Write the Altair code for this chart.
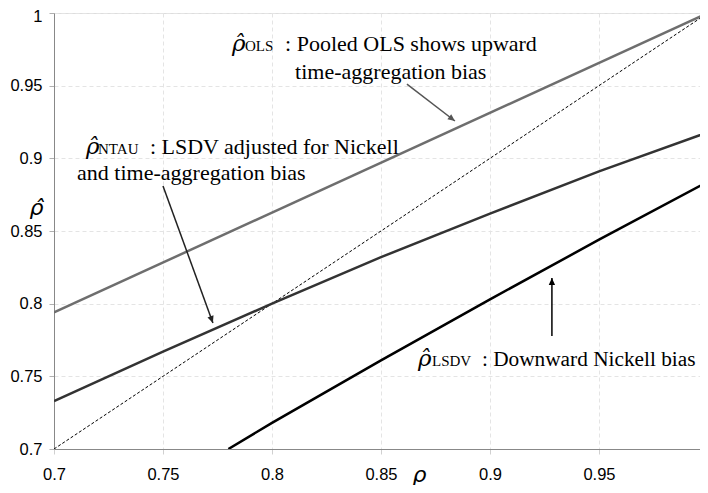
import altair as alt
import pandas as pd

# ---- data ----
rho_ols = [0.70, 1.00]
ols = [0.794, 1.000]

rho_ntau = [0.70, 0.75, 0.80, 0.85, 0.90, 0.95, 1.00]
ntau = [0.733, 0.767, 0.800, 0.832, 0.862, 0.891, 0.918]

rho_lsdv = [0.78, 0.80, 0.85, 0.90, 0.95, 1.00]
lsdv = [0.700, 0.718, 0.761, 0.803, 0.844, 0.884]

rho_diag = [0.70, 1.00]
diag = [0.70, 1.00]

ticks = [0.7, 0.75, 0.8, 0.85, 0.9, 0.95, 1.0]

SERIF = "Liberation Serif"
SANS = "Liberation Sans"

xs = alt.Scale(domain=[0.7, 1.0], nice=False, zero=False)
ys = alt.Scale(domain=[0.7, 1.0], nice=False, zero=False)


def series(xv, yv, color, width, dash=None):
    df = pd.DataFrame({"x": xv, "y": yv})
    kw = dict(color=color, strokeWidth=width, clip=True)
    if dash:
        kw["strokeDash"] = dash
    return alt.Chart(df).mark_line(**kw).encode(
        x=alt.X("x:Q", scale=xs), y=alt.Y("y:Q", scale=ys)
    )


base = alt.Chart(pd.DataFrame({"x": ticks, "y": ticks})).mark_point(opacity=0).encode(
    x=alt.X(
        "x:Q", scale=xs,
        axis=alt.Axis(values=ticks, title="ρ", format="~g", grid=True,
                      gridColor="#e4e4e4", gridDash=[4, 3], tickColor="#d0d0d0",
                      tickSize=5, labelPadding=12, labelFont=SANS, labelFontSize=16.5,
                      labelColor="#000", domainColor="#888", titleFont="DejaVu Sans",
                      titleFontSize=22, titleFontStyle="italic", titleFontWeight="normal",
                      titleX=365, titleY=37, titleBaseline="bottom", titleAlign="center",
                      labelFlush=False),
    ),
    y=alt.Y(
        "y:Q", scale=ys,
        axis=alt.Axis(values=ticks, title="ρ̂", format="~g", grid=True,
                      gridColor="#e4e4e4", gridDash=[4, 3], tickColor="#b0b0b0",
                      tickSize=5, labelPadding=7, labelFont=SANS, labelFontSize=16.5,
                      labelColor="#000", domainColor="#888", titleFont="DejaVu Sans",
                      titleFontSize=22, titleFontStyle="italic", titleFontWeight="normal",
                      titleAngle=0, titleX=-18, titleY=201, titleBaseline="alphabetic",
                      titleAlign="center", labelFlush=False,
                      labelOffset={"condition": {"test": "datum.value >= 0.999", "value": 3},
                                   "value": 0}),
    ),
)


def txt(x, y, s, size=22, style="normal", font=SERIF):
    return alt.Chart(pd.DataFrame({"x": [x], "y": [y], "t": [s]})).mark_text(
        align="left", baseline="alphabetic", font=font, fontSize=size,
        fontStyle=style, color="#000"
    ).encode(x="x:Q", y="y:Q", text="t:N")


def arrow(x1, y1, x2, y2, angle, color):
    r = alt.Chart(pd.DataFrame({"x": [x1], "y": [y1], "x2": [x2], "y2": [y2]})).mark_rule(
        color=color, strokeWidth=1.5
    ).encode(x="x:Q", y="y:Q", x2="x2:Q", y2="y2:Q")
    p = alt.Chart(pd.DataFrame({"x": [x2], "y": [y2]})).mark_point(
        shape="M0,0L-0.45,1L0.45,1Z", filled=True, color=color, opacity=1,
        size=200, angle=angle
    ).encode(x="x:Q", y="y:Q")
    return r + p


layers = [
    base,
    series(rho_diag, diag, "#000", 1, [3, 2]),
    series(rho_ols, ols, "#6e6e6e", 2.5),
    series(rho_ntau, ntau, "#333333", 2.5),
    series(rho_lsdv, lsdv, "#000000", 2.5),
    # OLS annotation
    txt(0.7817, 0.9739, "ρ̂", 23, "italic", "DejaVu Serif"),
    txt(0.7876, 0.9739, "OLS", 15),
    txt(0.806, 0.9739, ": Pooled OLS shows upward"),
    txt(0.8106, 0.9546, "time-aggregation bias"),
    arrow(0.8619, 0.9511, 0.8839, 0.9257, 127.6, "#555555"),
    # NTAU annotation
    txt(0.7147, 0.9030, "ρ̂", 23, "italic", "DejaVu Serif"),
    txt(0.7202, 0.9030, "NTAU", 15),
    txt(0.7440, 0.9030, ": LSDV adjusted for Nickell"),
    txt(0.7106, 0.8851, "and time-aggregation bias"),
    arrow(0.75, 0.8810, 0.7729, 0.7867, 159.95, "#222222"),
    # LSDV annotation
    txt(0.8670, 0.7571, "ρ̂", 23, "italic", "DejaVu Serif"),
    txt(0.8734, 0.7571, "LSDV", 15),
    txt(0.8963, 0.7571, ": Downward Nickell bias", 21.3),
    arrow(0.9284, 0.7778, 0.9284, 0.8177, 0, "#000000"),
]

chart = alt.layer(*layers).properties(
    width=654, height=436,
    autosize=alt.AutoSizeParams(type="none"),
    padding={"left": 46, "top": 5, "right": -8, "bottom": 36},
).configure_view(
    fill="#fafafa", stroke="#888", strokeWidth=1
).configure(background="white")

chart.save("out.html", embed_options={"renderer": "svg", "actions": False})
